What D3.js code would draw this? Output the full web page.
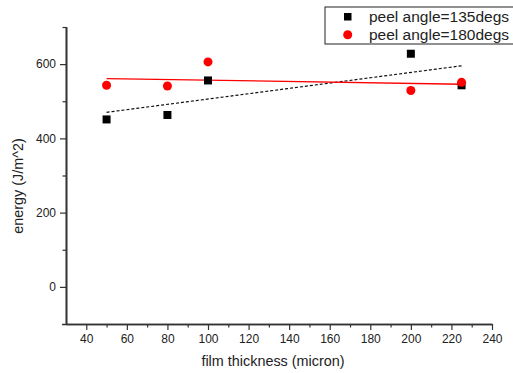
<!DOCTYPE html>
<html><head><meta charset="utf-8">
<script src="https://cdn.jsdelivr.net/npm/d3@7"></script>
<style>body{margin:0;background:#fff}svg{display:block}text{font-family:"Liberation Sans",Arial,sans-serif;fill:#222}</style>
</head><body><svg id="c" width="513" height="373"></svg>
<script>
const thickness = [50, 80, 100, 200, 225];
const energy135 = [451, 463, 556, 628, 543];
const energy180 = [543, 541, 606, 529, 551];
const seriesNames = ["peel angle=135degs", "peel angle=180degs"];
const xTicks = [40, 60, 80, 100, 120, 140, 160, 180, 200, 220, 240];
const yTicks = [0, 200, 400, 600];

const svg = d3.select("#c");
const x = d3.scaleLinear().domain([30, 240]).range([66, 492]);
const y = d3.scaleLinear().domain([-100, 700]).range([324, 27]);

function fit(xs, ys) {
  const mx = d3.mean(xs), my = d3.mean(ys);
  const sxy = d3.sum(xs, (v, i) => (v - mx) * (ys[i] - my));
  const sxx = d3.sum(xs, v => (v - mx) * (v - mx));
  const b = sxy / sxx, a = my - b * mx;
  const x0 = d3.min(xs), x1 = d3.max(xs);
  return [[x0, a + b * x0], [x1, a + b * x1]];
}
const line = d3.line().x(d => x(d[0])).y(d => y(d[1]));

// axes
const axisColor = "#333";
const xAxis = d3.axisBottom(x).tickValues(xTicks).tickSize(6).tickPadding(4).tickSizeOuter(0);
const gx = svg.append("g").attr("transform", "translate(0,324)").call(xAxis);
const gxm = svg.append("g").attr("transform", "translate(0,324)")
  .call(d3.axisBottom(x).tickValues(d3.range(50, 240, 20)).tickSize(3.5).tickFormat("").tickSizeOuter(0));
const yAxis = d3.axisLeft(y).tickValues(yTicks).tickSize(6).tickPadding(4).tickSizeOuter(0);
const gy = svg.append("g").attr("transform", "translate(66,0)").call(yAxis);
const gym = svg.append("g").attr("transform", "translate(66,0)")
  .call(d3.axisLeft(y).tickValues([100, 300, 500, 700]).tickSize(3.5).tickFormat("").tickSizeOuter(0));
[gx, gxm, gy, gym].forEach(g => {
  g.select(".domain").attr("stroke", axisColor).attr("stroke-width", 1.6);
  g.selectAll(".tick line").attr("stroke", axisColor).attr("stroke-width", 1.2);
  g.selectAll(".tick text").attr("font-size", 12).attr("fill", "#222")
    .attr("font-family", '"Liberation Sans",Arial,sans-serif');
});
gx.select(".domain").attr("d", "M62,0.5H492");
gy.select(".domain").attr("d", "M0.5,27V325");

// axis titles
svg.append("text").attr("x", 273).attr("y", 366).attr("text-anchor", "middle")
  .attr("font-size", 14.4).text("film thickness (micron)");
svg.append("text").attr("transform", "translate(23,186) rotate(-90)").attr("text-anchor", "middle")
  .attr("font-size", 14.4).text("energy (J/m^2)");

// fit lines
svg.append("path").attr("d", line(fit(thickness, energy135))).attr("fill", "none")
  .attr("stroke", "#111").attr("stroke-width", 1.2).attr("stroke-dasharray", "3,2");
svg.append("path").attr("d", line(fit(thickness, energy180))).attr("fill", "none")
  .attr("stroke", "#f00").attr("stroke-width", 1.3);

// markers
svg.selectAll("rect.s1").data(thickness).join("rect").attr("class", "s1")
  .attr("x", (d) => x(d) - 4).attr("y", (d, i) => y(energy135[i]) - 4)
  .attr("width", 8).attr("height", 8).attr("fill", "#000");
svg.selectAll("circle.s2").data(thickness).join("circle").attr("class", "s2")
  .attr("cx", d => x(d)).attr("cy", (d, i) => y(energy180[i])).attr("r", 4.5).attr("fill", "#f00");

// legend
const lg = svg.append("g");
lg.append("rect").attr("x", 325).attr("y", 7).attr("width", 195).attr("height", 37)
  .attr("fill", "#fff").attr("stroke", "#222").attr("stroke-width", 1);
lg.append("rect").attr("x", 344).attr("y", 13).attr("width", 7.5).attr("height", 7.5).attr("fill", "#000");
lg.append("circle").attr("cx", 347.7).attr("cy", 34.7).attr("r", 4.5).attr("fill", "#f00");
lg.selectAll("text.lt").data(seriesNames).join("text").attr("class", "lt")
  .attr("x", 369).attr("y", (d, i) => 22 + i * 18).attr("font-size", 15.5).text(d => d);
</script></body></html>
